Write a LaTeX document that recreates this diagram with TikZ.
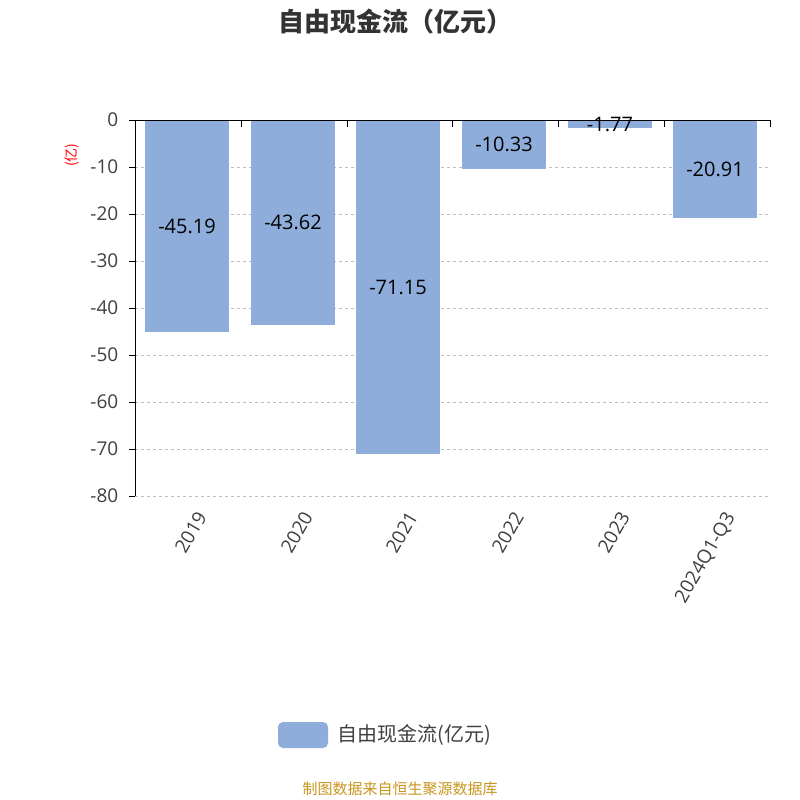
\documentclass[tikz,border=0pt]{standalone}
\usepackage{fontspec}
\setmainfont{Open Sans}
\newfontfamily\cjk{Noto Sans CJK SC}
\usepackage{xcolor}
\definecolor{barblue}{HTML}{8EADDA}
\definecolor{footgold}{HTML}{C8961E}
\begin{document}
\begin{tikzpicture}[x=1pt, y=-1pt, thick,
  bar/.style = {fill=barblue, draw=none},
  grid/.style = {draw=gray!50, dashed, thin},
  val/.style = {font=\fontsize{20}{20}\selectfont, text=black},
  tick/.style = {font=\fontsize{19}{19}\selectfont, text=black!75}]
  \useasboundingbox[fill=white] (0,0) rectangle (800,800);
  \node[font=\cjk\bfseries\fontsize{26}{26}\selectfont, text=black!80] (title) at (395,22) {自由现金流（亿元）};
  % grid and y ticks
  \foreach \v in {10,20,...,80} {
    \draw[grid] (135,120+4.7*\v) -- (768,120+4.7*\v);
  }
  \foreach \v in {0,10,...,80} {
    \draw[black, thin] (129,120+4.7*\v) -- (135,120+4.7*\v);
    \node[tick, anchor=east] (y\v) at (122,120+4.7*\v) {\ifnum\v=0 0\else -\v\fi};
  }
  \node[text=red, rotate=90, font=\cjk\fontsize{14}{14}\selectfont] (unit) at (72,155) {(亿)};
  % bars
  \foreach \x/\v/\lab [count=\i] in {187/45.19/2019, 293/43.62/2020, 398/71.15/2021, 504/10.33/2022, 610/1.77/2023, 715/20.91/2024Q1-Q3} {
    \fill[bar] (\x-42,120) rectangle (\x+42,120+4.7*\v);
    \node[val] (b\i) at (\x,120+2.35*\v) {-\v};
    \node[tick, rotate=60, anchor=north east, inner sep=1pt] (c\i) at (\x+8,508) {\lab};
  }
  % axes
  \draw[black, thin] (135,120) -- (135,496);
  \draw[black, thin] (135,120) -- (770,120);
  \foreach \x in {135,241,347,452,558,664,770} {
    \draw[black, thin] (\x,120) -- (\x,127);
  }
  % legend
  \fill[barblue, rounded corners=5pt] (278,722) rectangle (328,748);
  \node[anchor=west, font=\cjk\fontsize{20}{20}\selectfont, text=black!75] (leg) at (334,735) {自由现金流(亿元)};
  \node[text=footgold, font=\cjk\fontsize{15}{15}\selectfont] (foot) at (400,789) {制图数据来自恒生聚源数据库};
\end{tikzpicture}
\end{document}
